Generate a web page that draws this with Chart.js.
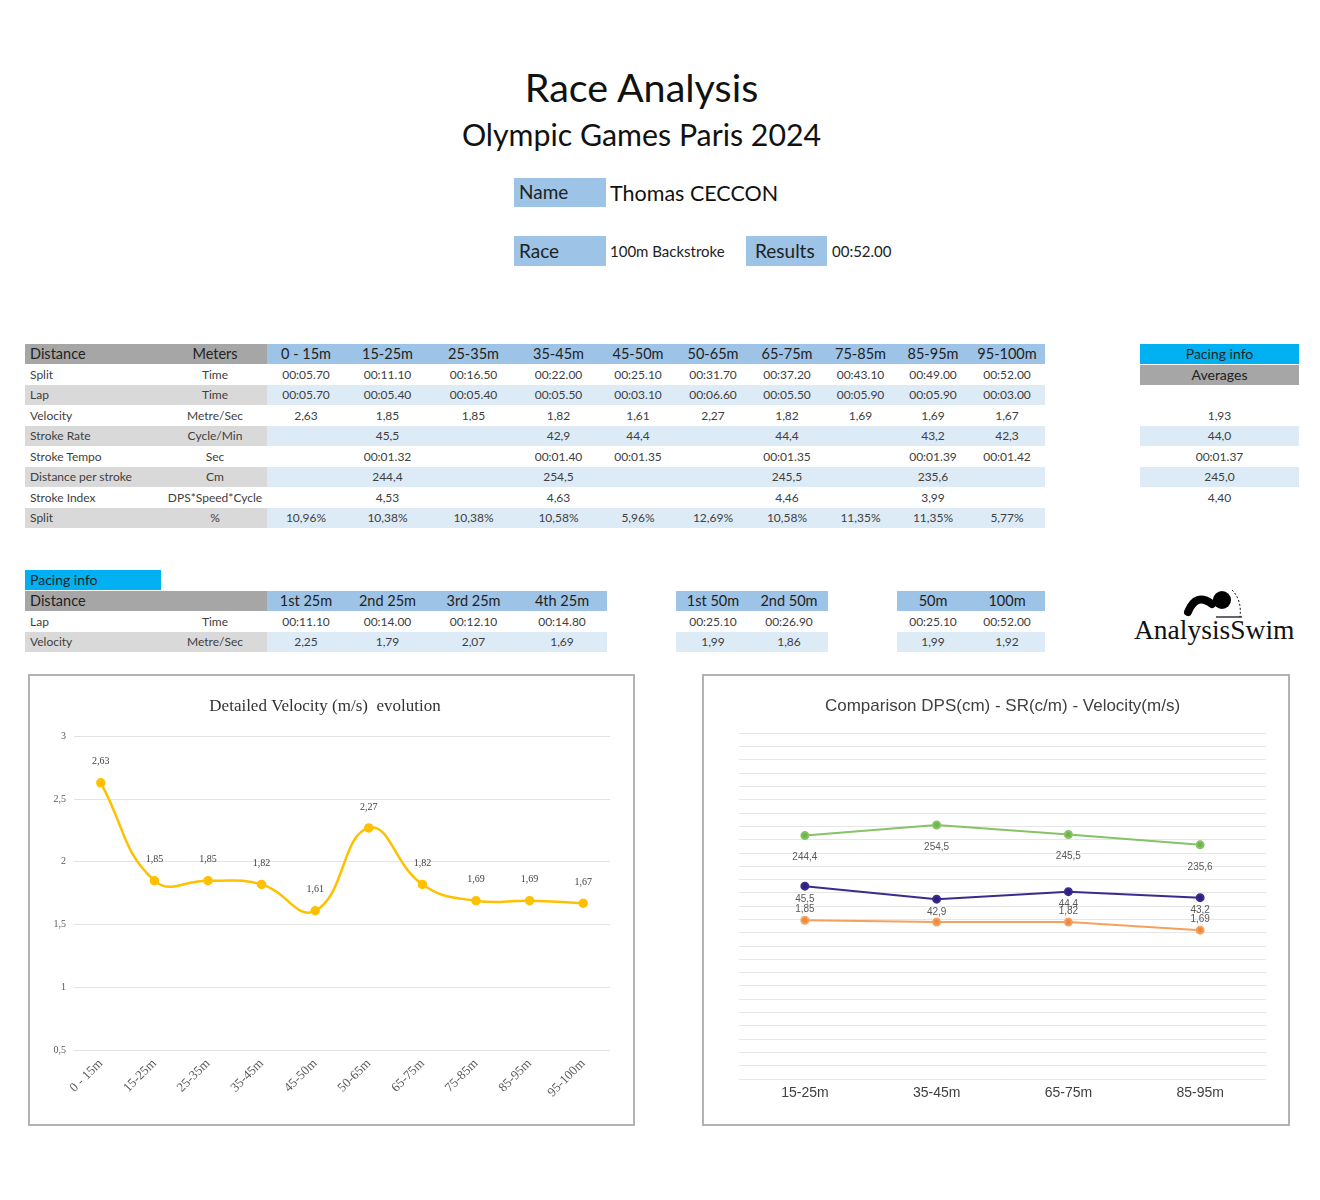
<!DOCTYPE html>
<html>
<head>
<meta charset="utf-8">
<script src="https://cdn.jsdelivr.net/npm/chart.js@4.4.1/dist/chart.umd.min.js"></script>
<style>
  body { margin: 0; background: #fff; font-family: 'Lato', sans-serif; }
  #page { position: relative; width: 1320px; height: 1200px; }
  .abs { position: absolute; white-space: nowrap; }
  .cell { position: absolute; box-sizing: border-box; white-space: nowrap; overflow: hidden; color: #404040; font-size: 12px; }
  .box { position: absolute; box-sizing: border-box; border: 2px solid #b3b3b3; background: #fff; }
</style>
</head>
<body>
<div id="page">
  <div class="abs" style="left:0;width:1283px;top:63px;text-align:center;font-size:39.5px;color:#111;">Race Analysis</div>
  <div class="abs" style="left:0;width:1283px;top:116px;text-align:center;font-size:30.3px;color:#111;">Olympic Games Paris 2024</div>

  <div class="abs" style="left:514px;top:178px;width:92px;height:29px;background:#9dc3e6;"></div>
  <div class="abs" style="left:519px;top:180px;font-size:19px;color:#222;">Name</div>
  <div class="abs" style="left:610px;top:180px;font-size:21.5px;color:#111;">Thomas CECCON</div>

  <div class="abs" style="left:514px;top:236px;width:92px;height:30px;background:#9dc3e6;"></div>
  <div class="abs" style="left:519px;top:239px;font-size:19px;color:#222;">Race</div>
  <div class="abs" style="left:610px;top:242px;font-size:15px;color:#222;">100m Backstroke</div>
  <div class="abs" style="left:746px;top:236px;width:81px;height:30px;background:#9dc3e6;"></div>
  <div class="abs" style="left:755px;top:239px;font-size:19px;color:#222;">Results</div>
  <div class="abs" style="left:832px;top:242px;font-size:15px;color:#222;">00:52.00</div>

  <div id="tables"></div>

  <svg class="abs" style="left:1172px;top:586px;" width="80" height="40">
    <path d="M16 26 Q24 6 40 18" stroke="#000" stroke-width="8" fill="none" stroke-linecap="round"/>
    <circle cx="50" cy="14" r="9" fill="#000"/>
    <path d="M60 4 Q70 14 68 31" stroke="#000" stroke-width="1" fill="none" stroke-dasharray="2 2"/>
    <line x1="44" y1="31" x2="70" y2="31" stroke="#000" stroke-width="1.2"/>
  </svg>
  <div class="abs" style="left:1134px;top:614px;font-family:'Liberation Serif',serif;font-size:27.5px;color:#111;">AnalysisSwim</div>

  <div class="box" style="left:28px;top:674px;width:607px;height:452px;">
    <canvas id="velChart" width="603" height="448"></canvas>
  </div>
  <div class="box" style="left:702px;top:674px;width:588px;height:452px;">
    <canvas id="compChart" width="584" height="448"></canvas>
  </div>
</div>

<script>
// Race splits, per segment
const segments = ['0 - 15m', '15-25m', '25-35m', '35-45m', '45-50m', '50-65m', '65-75m', '75-85m', '85-95m', '95-100m'];
const splitTimes = ['00:05.70', '00:11.10', '00:16.50', '00:22.00', '00:25.10', '00:31.70', '00:37.20', '00:43.10', '00:49.00', '00:52.00'];
const lapTimes = ['00:05.70', '00:05.40', '00:05.40', '00:05.50', '00:03.10', '00:06.60', '00:05.50', '00:05.90', '00:05.90', '00:03.00'];
const velocity = [2.63, 1.85, 1.85, 1.82, 1.61, 2.27, 1.82, 1.69, 1.69, 1.67];
const strokeRate = [null, 45.5, null, 42.9, 44.4, null, 44.4, null, 43.2, 42.3];
const strokeTempo = [null, '00:01.32', null, '00:01.40', '00:01.35', null, '00:01.35', null, '00:01.39', '00:01.42'];
const dps = [null, 244.4, null, 254.5, null, null, 245.5, null, 235.6, null];
const strokeIndex = [null, 4.53, null, 4.63, null, null, 4.46, null, 3.99, null];
const splitPct = [10.96, 10.38, 10.38, 10.58, 5.96, 12.69, 10.58, 11.35, 11.35, 5.77];

// Averages (pacing info, right)
const avgVelocity = 1.93;
const avgStrokeRate = 44.0;
const avgTempo = '00:01.37';
const avgDps = 245.0;
const avgIndex = 4.40;

// Pacing info tables
const laps25 = ['1st 25m', '2nd 25m', '3rd 25m', '4th 25m'];
const laps25Times = ['00:11.10', '00:14.00', '00:12.10', '00:14.80'];
const laps25Vel = [2.25, 1.79, 2.07, 1.69];
const laps50 = ['1st 50m', '2nd 50m'];
const laps50Times = ['00:25.10', '00:26.90'];
const laps50Vel = [1.99, 1.86];
const cumul = ['50m', '100m'];
const cumulTimes = ['00:25.10', '00:52.00'];
const cumulVel = [1.99, 1.92];

// Comparison chart
const compSegments = ['15-25m', '35-45m', '65-75m', '85-95m'];
const compDps = [244.4, 254.5, 245.5, 235.6];
const compSr = [45.5, 42.9, 44.4, 43.2];
const compVel = [1.85, 1.82, 1.82, 1.69];

// number with decimal comma
function fmt(v, d) {
  if (v === null || v === undefined) return '';
  return v.toFixed(d).replace('.', ',');
}

const tables = document.getElementById('tables');

function cell(x, y, w, h, text, o) {
  o = o || {};
  const d = document.createElement('div');
  d.className = 'cell';
  d.style.left = x + 'px';
  d.style.top = y + 'px';
  d.style.width = w + 'px';
  d.style.height = h + 'px';
  d.style.lineHeight = h + 'px';
  if (o.bg) d.style.background = o.bg;
  d.style.textAlign = o.align || 'center';
  if (o.pad) d.style.paddingLeft = o.pad + 'px';
  if (o.size) d.style.fontSize = o.size + 'px';
  if (o.color) d.style.color = o.color;
  d.textContent = text;
  tables.appendChild(d);
}

const GRAY_DARK = '#a6a6a6', GRAY = '#d9d9d9', BLUE = '#9dc3e6', BLUE_LIGHT = '#ddebf7', CYAN = '#00b0f0';
const ROW_H = 20.5;

// Main table
const mainTop = 344;
const dataEdges = [267, 345, 430, 517, 600, 676, 750, 824, 897, 969, 1045];
const mainRows = [
  ['Split', 'Time', splitTimes],
  ['Lap', 'Time', lapTimes],
  ['Velocity', 'Metre/Sec', velocity.map(v => fmt(v, 2))],
  ['Stroke Rate', 'Cycle/Min', strokeRate.map(v => fmt(v, 1))],
  ['Stroke Tempo', 'Sec', strokeTempo.map(v => v || '')],
  ['Distance per stroke', 'Cm', dps.map(v => fmt(v, 1))],
  ['Stroke Index', 'DPS*Speed*Cycle', strokeIndex.map(v => fmt(v, 2))],
  ['Split', '%', splitPct.map(v => fmt(v, 2) + '%')]
];

cell(25, mainTop, 138, ROW_H - 0.5, 'Distance', { bg: GRAY_DARK, align: 'left', pad: 5, size: 14.5, color: '#222' });
cell(163, mainTop, 104, ROW_H - 0.5, 'Meters', { bg: GRAY_DARK, size: 14.5, color: '#222' });
segments.forEach((s, j) => {
  cell(dataEdges[j], mainTop, dataEdges[j + 1] - dataEdges[j], ROW_H - 0.5, s, { bg: BLUE, size: 14.5, color: '#222' });
});
mainRows.forEach((r, i) => {
  const y = mainTop + (i + 1) * ROW_H;
  const shaded = i % 2 === 1;
  cell(25, y, 138, ROW_H - 0.5, r[0], { bg: shaded ? GRAY : null, align: 'left', pad: 5 });
  cell(163, y, 104, ROW_H - 0.5, r[1], { bg: shaded ? GRAY : null });
  r[2].forEach((v, j) => {
    cell(dataEdges[j], y, dataEdges[j + 1] - dataEdges[j], ROW_H - 0.5, v, { bg: shaded ? BLUE_LIGHT : null });
  });
});

// Averages block
cell(1140, mainTop, 159, ROW_H - 0.5, 'Pacing info', { bg: CYAN, size: 14, color: '#222' });
cell(1140, mainTop + ROW_H, 159, ROW_H - 0.5, 'Averages', { bg: GRAY_DARK, size: 14, color: '#222' });
const avgRows = [fmt(avgVelocity, 2), fmt(avgStrokeRate, 1), avgTempo, fmt(avgDps, 1), fmt(avgIndex, 2)];
avgRows.forEach((v, k) => {
  const i = k + 3;
  cell(1140, mainTop + i * ROW_H, 159, ROW_H - 0.5, v, { bg: i % 2 === 0 ? BLUE_LIGHT : null });
});

// Pacing info tables
const paceTop = 591;
cell(25, 570, 136, 19.5, 'Pacing info', { bg: CYAN, align: 'left', pad: 5, size: 14, color: '#222' });
cell(25, paceTop, 242, ROW_H - 0.5, 'Distance', { bg: GRAY_DARK, align: 'left', pad: 5, size: 14.5, color: '#222' });
cell(25, paceTop + ROW_H, 138, ROW_H - 0.5, 'Lap', { align: 'left', pad: 5 });
cell(163, paceTop + ROW_H, 104, ROW_H - 0.5, 'Time');
cell(25, paceTop + 2 * ROW_H, 138, ROW_H - 0.5, 'Velocity', { bg: GRAY, align: 'left', pad: 5 });
cell(163, paceTop + 2 * ROW_H, 104, ROW_H - 0.5, 'Metre/Sec', { bg: GRAY });

function paceTable(edges, heads, times, vels) {
  heads.forEach((h, j) => {
    const x = edges[j], w = edges[j + 1] - edges[j];
    cell(x, paceTop, w, ROW_H - 0.5, h, { bg: BLUE, size: 14.5, color: '#222' });
    cell(x, paceTop + ROW_H, w, ROW_H - 0.5, times[j]);
    cell(x, paceTop + 2 * ROW_H, w, ROW_H - 0.5, fmt(vels[j], 2), { bg: BLUE_LIGHT });
  });
}
paceTable([267, 345, 430, 517, 607], laps25, laps25Times, laps25Vel);
paceTable([676, 750, 828], laps50, laps50Times, laps50Vel);
paceTable([897, 969, 1045], cumul, cumulTimes, cumulVel);

// Value labels next to points (drawn from the scales)
const pointLabels = {
  id: 'pointLabels',
  afterDatasetsDraw(chart) {
    const ctx = chart.ctx;
    chart.data.datasets.forEach((ds, i) => {
      if (!ds.labelFormat) return;
      const meta = chart.getDatasetMeta(i);
      ctx.save();
      ctx.font = ds.labelFont;
      ctx.fillStyle = ds.labelColor;
      ctx.textAlign = 'center';
      ctx.textBaseline = 'middle';
      meta.data.forEach((pt, j) => {
        if (ds.data[j] == null) return;
        if (ds.hideLabels && ds.hideLabels.indexOf(j) >= 0) return;
        ctx.fillText(ds.labelFormat(ds.data[j]), pt.x, pt.y + ds.labelOffset);
      });
      ctx.restore();
    });
  }
};

// Detailed velocity chart
new Chart(document.getElementById('velChart'), {
  type: 'line',
  data: {
    labels: segments,
    datasets: [{
      data: velocity,
      borderColor: '#ffc000',
      backgroundColor: '#ffc000',
      borderWidth: 2.5,
      pointRadius: 3.5,
      tension: 0.45,
      labelOffset: -21,
      labelFormat: v => fmt(v, 2),
      labelFont: '10px "Liberation Serif"',
      labelColor: '#404040'
    }]
  },
  plugins: [pointLabels],
  options: {
    responsive: false,
    animation: false,
    layout: { padding: { left: 10, right: 23, top: 0, bottom: 0 } },
    plugins: {
      legend: { display: false },
      tooltip: { enabled: false },
      title: {
        display: true,
        text: 'Detailed Velocity (m/s)  evolution',
        font: { family: 'Liberation Serif', size: 17, weight: 'normal' },
        color: '#333',
        padding: { top: 20, bottom: 20 }
      }
    },
    scales: {
      x: {
        offset: true,
        grid: { display: false, drawTicks: false },
        border: { display: false },
        ticks: { minRotation: 45, maxRotation: 45, font: { family: 'Liberation Serif', size: 13 }, color: '#595959', padding: 6 },
        afterFit: s => { s.height = 74; }
      },
      y: {
        min: 0.5,
        max: 3,
        ticks: {
          stepSize: 0.5,
          font: { family: 'Liberation Serif', size: 10 },
          color: '#595959',
          padding: 8,
          callback: v => String(v).replace('.', ',')
        },
        grid: { color: '#e3e3e3', drawTicks: false },
        border: { display: false },
        afterFit: s => { s.width = 34; }
      }
    }
  }
});

// Comparison DPS / SR / velocity chart, one hidden axis per series
const sansLabel = '10px "Liberation Sans"';
new Chart(document.getElementById('compChart'), {
  type: 'line',
  data: {
    labels: compSegments,
    datasets: [
      {
        data: compDps, yAxisID: 'yDps',
        borderColor: '#86c366', backgroundColor: '#6fb548',
        borderWidth: 2, pointRadius: 3.5, tension: 0,
        labelOffset: 22, labelFormat: v => fmt(v, 1), labelFont: sansLabel, labelColor: '#595959'
      },
      {
        data: compSr, yAxisID: 'ySr',
        borderColor: '#3d2a8c', backgroundColor: '#2e1f80',
        borderWidth: 2, pointRadius: 3.5, tension: 0,
        labelOffset: 13, labelFormat: v => fmt(v, 1), labelFont: sansLabel, labelColor: '#595959'
      },
      {
        data: compVel, yAxisID: 'yVel',
        borderColor: '#f4a160', backgroundColor: '#f08a3a',
        borderWidth: 2, pointRadius: 3.5, tension: 0,
        labelOffset: -11, labelFormat: v => fmt(v, 2), labelFont: sansLabel, labelColor: '#595959',
        hideLabels: [1]
      }
    ]
  },
  plugins: [pointLabels],
  options: {
    responsive: false,
    animation: false,
    layout: { padding: { left: 35, right: 22, top: 0, bottom: 0 } },
    plugins: {
      legend: { display: false },
      tooltip: { enabled: false },
      title: {
        display: true,
        text: 'Comparison DPS(cm) - SR(c/m) - Velocity(m/s)',
        font: { family: 'Liberation Sans', size: 17, weight: 'normal' },
        color: '#404040',
        padding: { top: 20, bottom: 17 }
      }
    },
    scales: {
      x: {
        offset: true,
        grid: { display: false, drawTicks: false },
        border: { display: false },
        ticks: { font: { family: 'Liberation Sans', size: 14 }, color: '#404040', padding: 6, maxRotation: 0 },
        afterFit: s => { s.height = 45; }
      },
      y: {
        position: 'left',
        min: 0,
        max: 26,
        ticks: { display: false, stepSize: 1 },
        grid: { color: '#e6e6e6', drawTicks: false },
        border: { display: false },
        afterFit: s => { s.width = 0; }
      },
      yDps: { display: false, min: 12, max: 342 },
      ySr: { display: false, min: 7, max: 76 },
      yVel: { display: false, min: -0.7, max: 4.85 }
    }
  }
});
</script>
</body>
</html>
